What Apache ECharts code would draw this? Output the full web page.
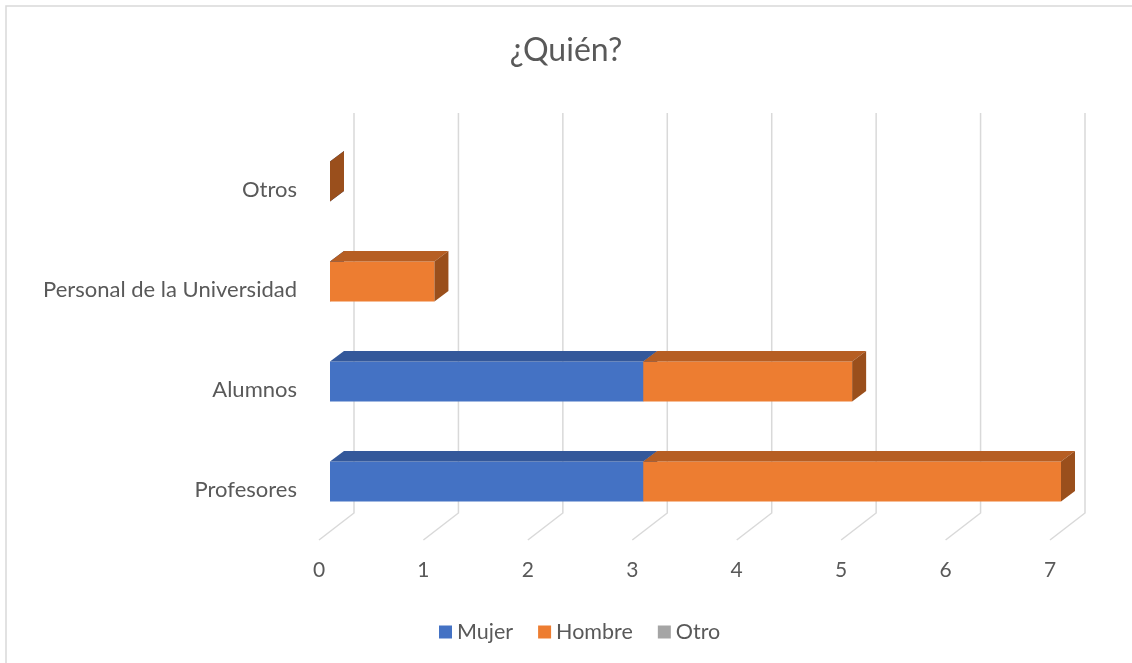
<!DOCTYPE html>
<html lang="es" style="height: 100%">
<head>
  <meta charset="utf-8">
</head>
<body style="height: 100%; margin: 0; background: #fff">
  <div id="container" style="height: 100%"></div>

  <script type="text/javascript" src="https://cdn.jsdelivr.net/npm/echarts@6/dist/echarts.min.js"></script>

  <script type="text/javascript">
    // datos del grafico
    var categories = ['Profesores', 'Alumnos', 'Personal de la Universidad', 'Otros'];
    var mujer = [3, 3, 0, 0];
    var hombre = [4, 2, 1, 0];
    var otro = [null, null, null, null];
    var ticks = [0, 1, 2, 3, 4, 5, 6, 7];

    var FONT = 'Lato, "Open Sans", sans-serif';
    var TXT = '#595959';

    // perspectiva (px)
    var FLOOR = [35, -27];   // profundidad del suelo / pared
    var FRONT = [11, -8.5];  // cara frontal de la barra
    var DEPTH = [14, -10.5]; // profundidad de la barra

    var dom = document.getElementById('container');
    var myChart = echarts.init(dom, null, { renderer: 'canvas' });

    var seriesDefs = [
      { name: 'Mujer', values: mujer, front: '#4472C4', top: '#34589A', side: '#2D4D86' },
      { name: 'Hombre', values: hombre, front: '#ED7D31', top: '#B65E23', side: '#9A4F1C' },
      { name: 'Otro', values: otro, front: '#A5A5A5', top: '#7F7F7F', side: '#6E6E6E' }
    ];

    function stackData() {
      var base = categories.map(function () { return 0; });
      return seriesDefs.map(function (s) {
        var rows = [];
        s.values.forEach(function (v, i) {
          if (v == null) return;
          rows.push([base[i], base[i] + v, i]);
          base[i] += v;
        });
        return rows;
      });
    }

    function makeBar(s) {
      return function (params, api) {
        var a = api.coord([api.value(0), api.value(2)]);
        var b = api.coord([api.value(1), api.value(2)]);
        var h = api.size([0, 1])[1] * 0.4;
        var x0 = a[0] + FRONT[0], x1 = b[0] + FRONT[0];
        var y0 = a[1] + FRONT[1] - h / 2, y1 = y0 + h;
        var dx = DEPTH[0], dy = DEPTH[1];
        return {
          type: 'group',
          children: [
            { type: 'rect', shape: { x: x0, y: y0, width: x1 - x0, height: h },
              style: { fill: s.front } },
            { type: 'polygon', shape: { points: [[x0, y0], [x0 + dx, y0 + dy], [x1 + dx, y0 + dy], [x1, y0]] },
              style: { fill: s.top } },
            { type: 'polygon', shape: { points: [[x1, y0], [x1 + dx, y0 + dy], [x1 + dx, y1 + dy], [x1, y1]] },
              style: { fill: s.side } }
          ]
        };
      };
    }

    function gridItem(params, api) {
      var p = api.coord([api.value(0), 0]);
      var cs = params.coordSys;
      var bottom = cs.y + cs.height, top = cs.y;
      return {
        type: 'polyline',
        shape: { points: [[p[0], bottom], [p[0] + FLOOR[0], bottom + FLOOR[1]], [p[0] + FLOOR[0], top + FLOOR[1]]] },
        style: { stroke: '#D9D9D9', lineWidth: 1.5, fill: null }
      };
    }

    var stacked = stackData();
    var series = [{
      type: 'custom',
      name: 'grid',
      silent: true,
      renderItem: gridItem,
      encode: { x: 0 },
      data: ticks.map(function (t) { return [t]; }),
      z: 1
    }];
    seriesDefs.forEach(function (s, k) {
      series.push({
        type: 'custom',
        name: s.name,
        renderItem: makeBar(s),
        itemStyle: { color: s.front },
        encode: { x: [0, 1], y: 2 },
        data: stacked[k],
        z: 2 + k
      });
    });

    var option = {
      animation: false,
      backgroundColor: '#fff',
      textStyle: { fontFamily: FONT },
      title: {
        text: '¿Quién?',
        left: 'center',
        top: 30,
        textStyle: { fontFamily: FONT, fontSize: 32, fontWeight: 'normal', color: TXT }
      },
      legend: {
        data: ['Mujer', 'Hombre', 'Otro'],
        left: 434,
        top: 616,
        icon: 'rect',
        itemWidth: 13,
        itemHeight: 13,
        itemGap: 25,
        textStyle: { fontFamily: FONT, fontSize: 21.5, color: TXT }
      },
      grid: { left: 319, right: 82, top: 140, bottom: 123 },
      xAxis: {
        type: 'value',
        min: 0,
        max: 7,
        interval: 1,
        axisLine: { show: false },
        axisTick: { show: false },
        splitLine: { show: false },
        axisLabel: { margin: 20, fontFamily: FONT, fontSize: 21, color: TXT }
      },
      yAxis: {
        type: 'category',
        data: categories,
        axisLine: { show: false },
        axisTick: { show: false },
        axisLabel: { margin: 22, fontFamily: FONT, fontSize: 22, color: TXT }
      },
      graphic: [{
        type: 'rect',
        silent: true,
        shape: { x: 6, y: 6, width: 1140, height: 670 },
        style: { fill: null, stroke: '#D9D9D9', lineWidth: 1.5 }
      }],
      series: series
    };

    myChart.setOption(option);
    window.addEventListener('resize', myChart.resize);
  </script>
</body>
</html>
